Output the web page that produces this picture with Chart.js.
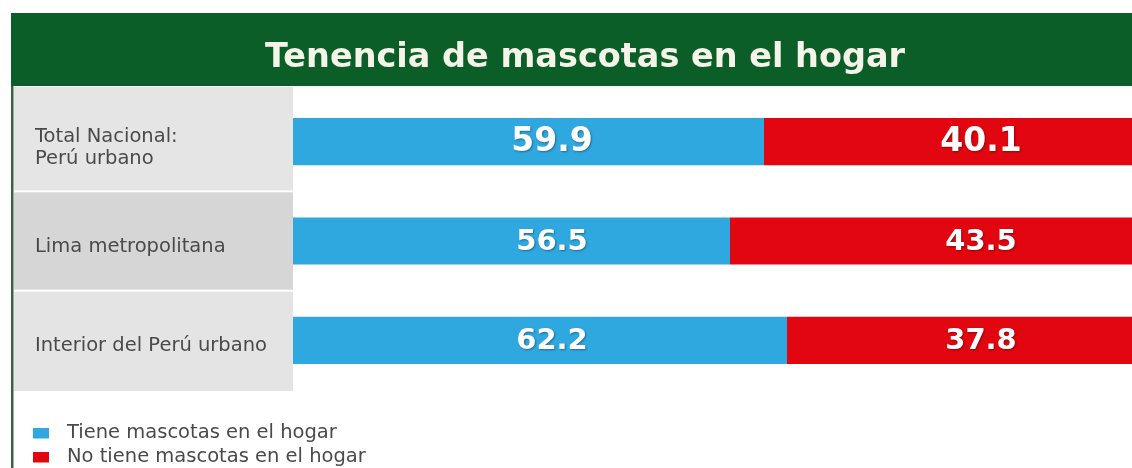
<!DOCTYPE html>
<html>
<head>
<meta charset="utf-8">
<script src="https://cdn.jsdelivr.net/npm/chart.js@4.4.1/dist/chart.umd.min.js"></script>
<style>
  html, body { margin: 0; padding: 0; background: #ffffff; overflow: hidden; }
  #wrap { position: relative; width: 1170px; height: 468px; }
</style>
</head>
<body>
<div id="wrap"><canvas id="c"></canvas></div>
<script>
// ---- data ----
const chartTitle = 'Tenencia de mascotas en el hogar';
const categories = [['Total Nacional:', 'Perú urbano'], 'Lima metropolitana', 'Interior del Perú urbano'];
const seriesNames = ['Tiene mascotas en el hogar', 'No tiene mascotas en el hogar'];
const tieneMascotas = [59.9, 56.5, 62.2];
const noTieneMascotas = [40.1, 43.5, 37.8];

// ---- styles ----
const BLUE = '#2fa7df';
const RED = '#e1060f';
const GREEN = '#0b5e27';
const TEXT = '#4a4a4a';

const decorPlugin = {
  id: 'decor',
  beforeDraw(chart) {
    const ctx = chart.ctx;
    const y = chart.scales.y;
    const W = chart.width, H = chart.height;
    ctx.save();
    ctx.fillStyle = '#ffffff';
    ctx.fillRect(0, 0, W, H);
    // header
    ctx.fillStyle = GREEN;
    ctx.fillRect(11, 13, W - 11, 73);
    // left border line
    ctx.fillStyle = '#3f5f40';
    ctx.fillRect(11, 86, 2.5, H - 86);
    // label panel rows
    const n = chart.data.labels.length;
    const centers = [];
    for (let i = 0; i < n; i++) centers.push(y.getPixelForValue(i));
    const rowColors = ['#e5e5e5', '#d6d6d6', '#e4e4e4'];
    const panelRight = chart.chartArea.left;
    for (let i = 0; i < n; i++) {
      const top = i === 0 ? 87 : (centers[i - 1] + centers[i]) / 2 + 1;
      const bottom = i === n - 1 ? chart.chartArea.bottom + 1 : (centers[i] + centers[i + 1]) / 2 - 1;
      ctx.fillStyle = rowColors[i % rowColors.length];
      ctx.fillRect(14, top, panelRight - 14, bottom - top);
    }
    // title
    ctx.fillStyle = '#f4f4e8';
    ctx.font = 'bold 33.5px "DejaVu Sans"';
    ctx.textAlign = 'center';
    ctx.textBaseline = 'alphabetic';
    ctx.fillText(chartTitle, 585, 67);
    ctx.restore();
  },
  afterDatasetsDraw(chart) {
    const ctx = chart.ctx;
    const x = chart.scales.x, y = chart.scales.y;
    ctx.save();
    ctx.textAlign = 'center';
    ctx.textBaseline = 'middle';
    ctx.fillStyle = '#ffffff';
    ctx.shadowColor = 'rgba(0,0,0,0.35)';
    ctx.shadowBlur = 2;
    ctx.shadowOffsetX = 1;
    ctx.shadowOffsetY = 1;
    const labelPos = [38.7, 81.6];
    chart.data.datasets.forEach((ds, di) => {
      ds.data.forEach((v, i) => {
        const size = i === 0 ? 33 : 29;
        ctx.font = 'bold ' + size + 'px "DejaVu Sans"';
        ctx.fillText(v.toFixed(1), x.getPixelForValue(labelPos[di]), y.getPixelForValue(i) + 1);
      });
    });
    ctx.restore();
    // legend
    ctx.save();
    ctx.font = '19.5px "DejaVu Sans"';
    ctx.textAlign = 'left';
    ctx.textBaseline = 'middle';
    chart.data.datasets.forEach((ds, di) => {
      const cy = 433 + di * 24;
      ctx.fillStyle = ds.backgroundColor;
      ctx.fillRect(33, cy - 5, 16, 10.5);
      ctx.fillStyle = TEXT;
      ctx.fillText(ds.label, 67, cy);
    });
    ctx.restore();
  }
};

new Chart(document.getElementById('c'), {
  type: 'bar',
  data: {
    labels: categories,
    datasets: [
      { label: seriesNames[0], data: tieneMascotas, backgroundColor: BLUE, borderWidth: 0, clip: 0,
        barPercentage: 0.475, categoryPercentage: 1 },
      { label: seriesNames[1], data: noTieneMascotas, backgroundColor: RED, borderWidth: 0, clip: 0,
        barPercentage: 0.475, categoryPercentage: 1 }
    ]
  },
  options: {
    indexAxis: 'y',
    responsive: true,
    maintainAspectRatio: false,
    animation: false,
    events: [],
    layout: { padding: { top: 92, bottom: 78, left: 35, right: 5 } },
    plugins: { legend: { display: false }, tooltip: { enabled: false }, title: { display: false } },
    scales: {
      x: { type: 'linear', stacked: true, min: 12.8, max: 100, display: false },
      y: {
        stacked: true,
        grid: { display: false, drawTicks: false },
        border: { display: false },
        afterFit(scale) { scale.width = 258; },
        ticks: {
          crossAlign: 'far',
          padding: 0,
          labelOffset: 6,
          color: TEXT,
          font: { family: 'DejaVu Sans', size: 19.5, lineHeight: 1.13 }
        }
      }
    }
  },
  plugins: [decorPlugin]
});
</script>
</body>
</html>
